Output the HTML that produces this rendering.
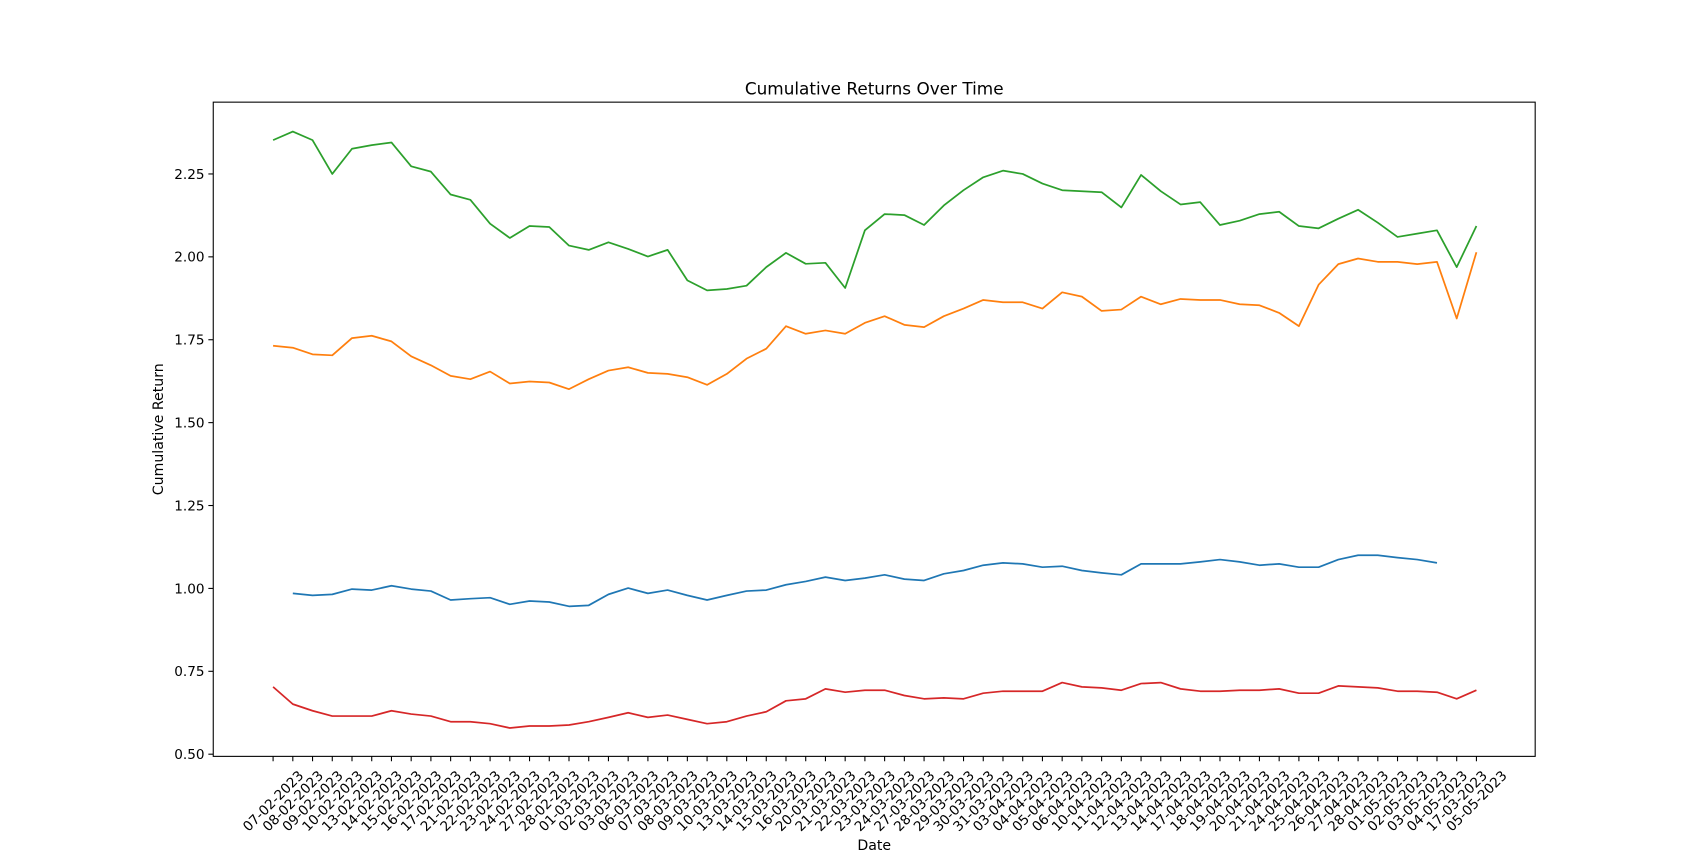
<!DOCTYPE html>
<html><head><meta charset="utf-8"><style>
html,body{margin:0;padding:0;background:#fff;}
svg{display:block;font-family:"DejaVu Sans","Liberation Sans",sans-serif;}
</style></head><body>
<svg id="chart" width="1706" height="852" viewBox="0 0 1568 784" preserveAspectRatio="none" xmlns="http://www.w3.org/2000/svg">
<rect width="1568" height="784" fill="#fff"/>
<text x="803.5" y="87" text-anchor="middle" font-size="15.5">Cumulative Returns Over Time</text>
<text transform="translate(150,395) rotate(-90)" text-anchor="middle" font-size="13">Cumulative Return</text>
<text x="803.5" y="782" text-anchor="middle" font-size="13">Date</text>
<g id="grid"></g>
<g id="series"></g>
<rect x="196" y="94" width="1215" height="602" fill="none" stroke="#000" stroke-width="1"/>
</svg>
<script>
const dates = ["07-02-2023","08-02-2023","09-02-2023","10-02-2023","13-02-2023","14-02-2023","15-02-2023","16-02-2023","17-02-2023","21-02-2023","22-02-2023","23-02-2023","24-02-2023","27-02-2023","28-02-2023","01-03-2023","02-03-2023","03-03-2023","06-03-2023","07-03-2023","08-03-2023","09-03-2023","10-03-2023","13-03-2023","14-03-2023","15-03-2023","16-03-2023","20-03-2023","21-03-2023","22-03-2023","23-03-2023","24-03-2023","27-03-2023","28-03-2023","29-03-2023","30-03-2023","31-03-2023","03-04-2023","04-04-2023","05-04-2023","06-04-2023","10-04-2023","11-04-2023","12-04-2023","13-04-2023","14-04-2023","17-04-2023","18-04-2023","19-04-2023","20-04-2023","21-04-2023","24-04-2023","25-04-2023","26-04-2023","27-04-2023","28-04-2023","01-05-2023","02-05-2023","03-05-2023","04-05-2023","17-03-2023","05-05-2023"];
const yTicks = [0.5,0.75,1.0,1.25,1.5,1.75,2.0,2.25];
const yTickLabels = ["0.50","0.75","1.00","1.25","1.50","1.75","2.00","2.25"];
const greenSeries = [2.352,2.378,2.352,2.250,2.326,2.337,2.345,2.273,2.257,2.188,2.172,2.100,2.057,2.093,2.090,2.034,2.021,2.044,2.024,2.001,2.021,1.929,1.899,1.903,1.913,1.969,2.012,1.979,1.982,1.906,2.080,2.129,2.126,2.096,2.155,2.201,2.240,2.260,2.250,2.221,2.201,2.198,2.195,2.149,2.247,2.198,2.158,2.165,2.096,2.109,2.129,2.136,2.093,2.086,2.115,2.142,2.103,2.060,2.070,2.080,1.969,2.093];
const orangeSeries = [1.732,1.726,1.706,1.703,1.755,1.762,1.745,1.700,1.673,1.641,1.631,1.654,1.618,1.624,1.621,1.601,1.631,1.657,1.667,1.650,1.647,1.637,1.614,1.647,1.693,1.723,1.791,1.768,1.778,1.768,1.801,1.821,1.795,1.788,1.821,1.844,1.870,1.863,1.863,1.844,1.893,1.880,1.837,1.841,1.880,1.857,1.873,1.870,1.870,1.857,1.854,1.831,1.791,1.916,1.978,1.995,1.985,1.985,1.978,1.985,1.814,2.014];
const blueSeries = [null,0.985,0.979,0.982,0.998,0.995,1.008,0.998,0.992,0.965,0.969,0.972,0.952,0.962,0.959,0.946,0.949,0.982,1.001,0.985,0.995,0.979,0.965,0.979,0.992,0.995,1.011,1.021,1.034,1.024,1.031,1.041,1.028,1.024,1.044,1.054,1.070,1.077,1.074,1.064,1.067,1.054,1.047,1.041,1.074,1.074,1.074,1.080,1.087,1.080,1.070,1.074,1.064,1.064,1.087,1.100,1.100,1.093,1.087,1.077,null,null];
const redSeries = [0.703,0.651,0.631,0.615,0.615,0.615,0.631,0.621,0.615,0.598,0.598,0.592,0.579,0.585,0.585,0.588,0.598,0.611,0.625,0.611,0.618,0.605,0.592,0.598,0.615,0.628,0.661,0.667,0.697,0.687,0.693,0.693,0.677,0.667,0.670,0.667,0.684,0.690,0.690,0.690,0.716,0.703,0.700,0.693,0.713,0.716,0.697,0.690,0.690,0.693,0.693,0.697,0.684,0.684,0.706,0.703,0.700,0.690,0.690,0.687,0.667,0.693];

const NS = "http://www.w3.org/2000/svg";
const X0 = 251, X1 = 1357, Y0 = 694, PXPER = 305.1;
function xScale(i){ return X0 + (X1 - X0) * i / (dates.length - 1); }
function yScale(v){ return Y0 - (v - 0.5) * PXPER; }
const grid = document.getElementById('grid');
const seriesG = document.getElementById('series');

yTicks.forEach((t, k) => {
  const y = yScale(t);
  const ln = document.createElementNS(NS, 'line');
  ln.setAttribute('x1', 196); ln.setAttribute('x2', 191.5);
  ln.setAttribute('y1', y); ln.setAttribute('y2', y);
  ln.setAttribute('stroke', '#000');
  
  
  grid.appendChild(ln);
  const tx = document.createElementNS(NS, 'text');
  tx.setAttribute('x', 188); tx.setAttribute('y', y + 4.5);
  tx.setAttribute('text-anchor', 'end'); tx.setAttribute('font-size', '12.5');
  tx.textContent = yTickLabels[k];
  
  
  grid.appendChild(tx);
});

dates.forEach((d, i) => {
  const x = xScale(i);
  const ln = document.createElementNS(NS, 'line');
  ln.setAttribute('x1', x); ln.setAttribute('x2', x);
  ln.setAttribute('y1', 696); ln.setAttribute('y2', 700.5);
  ln.setAttribute('stroke', '#000');
  
  
  grid.appendChild(ln);
  const tx = document.createElementNS(NS, 'text');
  tx.setAttribute('transform', 'translate(' + x + ',737) rotate(-45)');
  tx.setAttribute('text-anchor', 'middle'); tx.setAttribute('dy', '0.35em');
  tx.setAttribute('font-size', '12.5');
  tx.textContent = d;
  
  
  grid.appendChild(tx);
});

function drawLine(vals, color, name) {
  let dstr = '', pen = false;
  vals.forEach((v, i) => {
    if (v === null) { pen = false; return; }
    dstr += (pen ? 'L' : 'M') + xScale(i).toFixed(2) + ',' + yScale(v).toFixed(2);
    pen = true;
  });
  const p = document.createElementNS(NS, 'path');
  p.setAttribute('d', dstr);
  p.setAttribute('fill', 'none');
  p.setAttribute('stroke', color);
  p.setAttribute('stroke-width', '1.6');
  p.setAttribute('stroke-linejoin', 'round');
  
  
  seriesG.appendChild(p);
}
drawLine(blueSeries, '#1f77b4', 'blue-series-line');
drawLine(orangeSeries, '#ff7f0e', 'orange-series-line');
drawLine(greenSeries, '#2ca02c', 'green-series-line');
drawLine(redSeries, '#d62728', 'red-series-line');
</script>
</body></html>
